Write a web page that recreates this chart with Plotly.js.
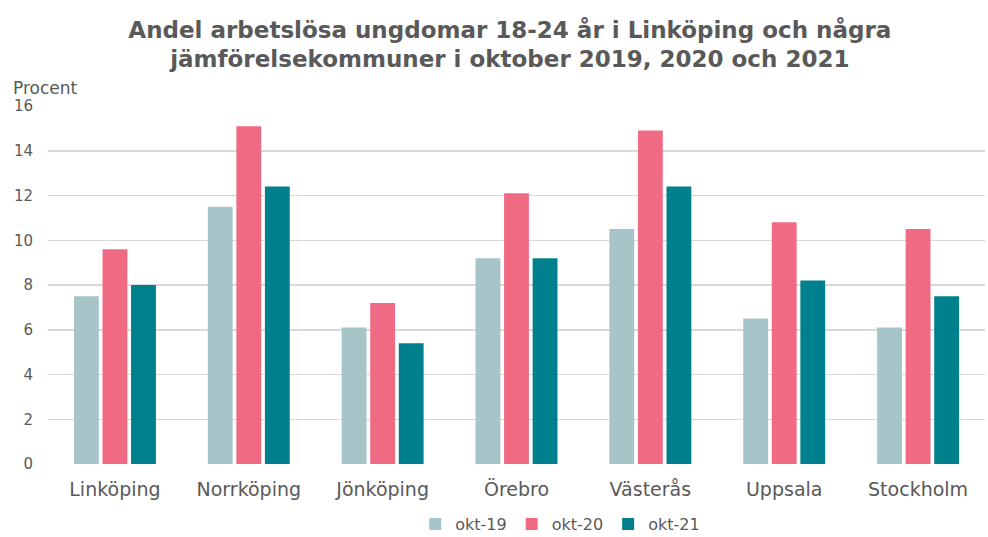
<!DOCTYPE html>
<html>
<head>
<meta charset="utf-8">
<script src="https://cdn.plot.ly/plotly-3.0.1.min.js"></script>
<style>
  html, body { margin: 0; padding: 0; background: #fff; }
  #chart { width: 988px; height: 537px; }
</style>
</head>
<body>
<div id="chart"></div>
<script>
// kommuner och andel arbetslösa (procent)
var kommuner = ['Linköping', 'Norrköping', 'Jönköping', 'Örebro', 'Västerås', 'Uppsala', 'Stockholm'];
var okt19 = [7.5, 11.5, 6.1, 9.2, 10.5, 6.5, 6.1];
var okt20 = [9.6, 15.1, 7.2, 12.1, 14.9, 10.8, 10.5];
var okt21 = [8.0, 12.4, 5.4, 9.2, 12.4, 8.2, 7.5];
var serieNamn = ['okt-19', 'okt-20', 'okt-21'];
var farger = ['#a7c4c9', '#f06a84', '#00808c'];

var yTicks = [0, 2, 4, 6, 8, 10, 12, 14, 16];

var textColor = '#595959';
var fontFam = 'DejaVu Sans, Verdana, sans-serif';

var data = [okt19, okt20, okt21].map(function (vals, i) {
    return {
        x: kommuner,
        y: vals,
        name: serieNamn[i],
        type: 'bar',
        marker: { color: farger[i] },
        hoverinfo: 'x+y+name'
    };
});

var layout = {
    width: 988,
    height: 537,
    margin: { l: 48, r: 3, t: 106, b: 73 },
    paper_bgcolor: '#ffffff',
    plot_bgcolor: '#ffffff',
    barmode: 'group',
    bargap: 0.36,
    bargroupgap: 0.13,
    font: { family: fontFam, color: textColor, size: 15 },
    title: {
        text: 'Andel arbetslösa ungdomar 18-24 år i Linköping och några<br>jämförelsekommuner i oktober 2019, 2020 och 2021',
        font: { family: fontFam, size: 23, color: textColor, weight: 'bold' },
        x: 0.516,
        xanchor: 'center',
        xref: 'container',
        yref: 'container',
        y: 0.93,
        yanchor: 'top'
    },
    xaxis: {
        tickfont: { size: 19, color: textColor },
        showline: false,
        ticks: '',
        ticklabelstandoff: 12,
        fixedrange: true
    },
    yaxis: {
        range: [0, 16],
        tickvals: yTicks,
        tickfont: { size: 15, color: textColor },
        gridcolor: '#d9d9d9',
        gridwidth: 1.5,
        zeroline: false,
        showline: false,
        ticks: '',
        ticklabelstandoff: 14,
        fixedrange: true
    },
    legend: {
        orientation: 'h',
        x: 0.567,
        xanchor: 'center',
        xref: 'container',
        yref: 'container',
        y: 0.024,
        yanchor: 'middle',
        font: { size: 16, color: textColor },
        itemwidth: 30,
        tracegroupgap: 0
    },
    annotations: [{
        text: 'Procent',
        xref: 'paper', yref: 'paper',
        x: -0.04, xanchor: 'left',
        y: 1.018, yanchor: 'bottom',
        showarrow: false,
        font: { size: 17, color: textColor }
    }]
};

Plotly.newPlot('chart', data, layout, { displayModeBar: false, staticPlot: true });
</script>
</body>
</html>
